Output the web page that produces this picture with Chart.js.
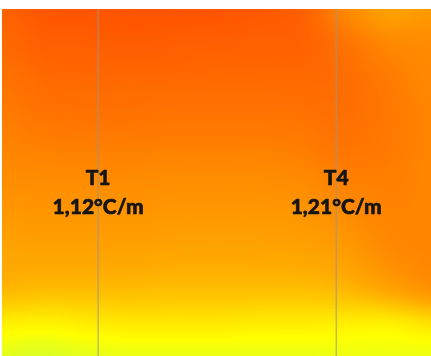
<!DOCTYPE html>
<html>
<head>
<meta charset="utf-8">
<script src="https://cdn.jsdelivr.net/npm/chart.js@4/dist/chart.umd.min.js"></script>
<style>
  html, body { margin: 0; padding: 0; background: #ffffff; }
  #wrap { width: 431px; height: 356px; position: relative; }
</style>
</head>
<body>
<div id="wrap"><canvas id="c"></canvas></div>
<script>
// Grid of the measured field: columns across the room width (0–100 %),
// rows from the ceiling (100 %) down to the floor (0 %).
const gridX = [0, 10, 20, 30, 40, 50, 60, 70, 80, 90, 100];
const gridY = [100, 90, 80, 70, 60, 50, 40, 30, 20, 10, 0];

// Relative temperature level (0 = coolest, 1 = warmest), one row per gridY entry.
const levels = [
  [0.85, 0.94, 0.95, 0.96, 0.96, 0.95, 0.92, 0.86, 0.60, 0.45, 0.50],
  [0.80, 0.87, 0.88, 0.89, 0.88, 0.87, 0.86, 0.85, 0.73, 0.60, 0.58],
  [0.74, 0.80, 0.81, 0.81, 0.81, 0.80, 0.80, 0.80, 0.77, 0.68, 0.60],
  [0.68, 0.73, 0.74, 0.74, 0.73, 0.73, 0.73, 0.74, 0.76, 0.70, 0.62],
  [0.62, 0.65, 0.66, 0.66, 0.65, 0.65, 0.65, 0.67, 0.72, 0.69, 0.62],
  [0.56, 0.57, 0.57, 0.57, 0.56, 0.56, 0.56, 0.58, 0.64, 0.65, 0.62],
  [0.50, 0.51, 0.51, 0.51, 0.50, 0.50, 0.50, 0.51, 0.56, 0.62, 0.62],
  [0.43, 0.44, 0.44, 0.44, 0.43, 0.43, 0.43, 0.44, 0.48, 0.58, 0.62],
  [0.36, 0.34, 0.34, 0.34, 0.33, 0.33, 0.33, 0.33, 0.36, 0.45, 0.55],
  [0.16, 0.15, 0.17, 0.18, 0.18, 0.18, 0.17, 0.17, 0.16, 0.16, 0.21],
  [0.03, 0.01, 0.04, 0.05, 0.05, 0.05, 0.05, 0.05, 0.06, 0.06, 0.06]
];

// Sensor masts and their measured vertical gradients
const sensorNames = ['T1', 'T4'];
const sensorX = [22.4, 77.9];
const sensorGradients = [1.12, 1.21];

// Colour ramp: cool yellow-green through yellow and orange to red-orange
const rampStops = [
  [0.00, [215, 255, 40]],
  [0.10, [255, 255, 0]],
  [0.25, [255, 208, 0]],
  [0.40, [255, 170, 0]],
  [0.55, [255, 144, 0]],
  [0.70, [255, 120, 0]],
  [0.85, [255, 98, 0]],
  [1.00, [255, 78, 0]]
];

function rampColor(t) {
  t = Math.max(0, Math.min(1, t));
  for (let i = 1; i < rampStops.length; i++) {
    const [t1, c1] = rampStops[i];
    const [t0, c0] = rampStops[i - 1];
    if (t <= t1) {
      const f = (t - t0) / (t1 - t0);
      return [c0[0] + (c1[0] - c0[0]) * f, c0[1] + (c1[1] - c0[1]) * f, c0[2] + (c1[2] - c0[2]) * f];
    }
  }
  return rampStops[rampStops.length - 1][1];
}

// Catmull-Rom weights for smooth interpolation across the grid
function cr(p0, p1, p2, p3, f) {
  return 0.5 * ((2 * p1) + (-p0 + p2) * f + (2 * p0 - 5 * p1 + 4 * p2 - p3) * f * f + (-p0 + 3 * p1 - 3 * p2 + p3) * f * f * f);
}
function cell(r, c) {
  r = Math.max(0, Math.min(gridY.length - 1, r));
  c = Math.max(0, Math.min(gridX.length - 1, c));
  return levels[r][c];
}
function sampleLevel(xv, yv) {
  const cx = (xv - gridX[0]) / (gridX[1] - gridX[0]);
  const ry = (gridY[0] - yv) / (gridY[0] - gridY[1]);
  const c = Math.max(0, Math.min(gridX.length - 2, Math.floor(cx)));
  const r = Math.max(0, Math.min(gridY.length - 2, Math.floor(ry)));
  const fx = Math.max(0, Math.min(1, cx - c));
  const fy = Math.max(0, Math.min(1, ry - r));
  const rows = [];
  for (let k = -1; k <= 2; k++) {
    rows.push(cr(cell(r + k, c - 1), cell(r + k, c), cell(r + k, c + 1), cell(r + k, c + 2), fx));
  }
  return cr(rows[0], rows[1], rows[2], rows[3], fy);
}

// Paints the field behind the datasets using the chart's own scales
const fieldPlugin = {
  id: 'field',
  beforeDatasetsDraw(chart) {
    const { ctx, chartArea: a, scales: { x, y } } = chart;
    const w = Math.round(a.right - a.left), h = Math.round(a.bottom - a.top);
    const off = document.createElement('canvas');
    off.width = w; off.height = h;
    const octx = off.getContext('2d');
    const img = octx.createImageData(w, h);
    for (let j = 0; j < h; j++) {
      const yv = y.getValueForPixel(a.top + j + 0.5);
      for (let i = 0; i < w; i++) {
        const xv = x.getValueForPixel(a.left + i + 0.5);
        const col = rampColor(sampleLevel(xv, yv));
        const k = (j * w + i) * 4;
        img.data[k] = col[0]; img.data[k + 1] = col[1]; img.data[k + 2] = col[2]; img.data[k + 3] = 255;
      }
    }
    octx.putImageData(img, 0, 0);
    ctx.save();
    ctx.drawImage(off, a.left, a.top);
    ctx.restore();
  }
};

// Sensor names and gradient values written at each mast
const labelPlugin = {
  id: 'sensorLabels',
  afterDatasetsDraw(chart) {
    const { ctx, scales: { x, y } } = chart;
    ctx.save();
    ctx.fillStyle = '#151515';
    ctx.strokeStyle = '#151515';
    ctx.lineWidth = 0.6;
    ctx.lineJoin = 'round';
    ctx.font = '900 21px Lato, "Open Sans", sans-serif';
    ctx.textAlign = 'center';
    ctx.textBaseline = 'alphabetic';
    sensorNames.forEach((name, i) => {
      const px = x.getPixelForValue(sensorX[i]);
      const y1 = y.getPixelForValue(49.3);
      const y2 = y.getPixelForValue(40.9);
      const txt = sensorGradients[i].toFixed(2).replace('.', ',') + '°C/m';
      ctx.fillText(name, px, y1);
      ctx.strokeText(name, px, y1);
      ctx.fillText(txt, px, y2);
      ctx.strokeText(txt, px, y2);
    });
    ctx.restore();
  }
};

new Chart(document.getElementById('c'), {
  type: 'scatter',
  data: {
    datasets: sensorX.map((sx, i) => ({
      label: sensorNames[i],
      data: [{ x: sx, y: 0 }, { x: sx, y: 100 }],
      showLine: true,
      borderColor: 'rgba(150,150,150,0.9)',
      borderWidth: 1,
      pointRadius: 0,
      fill: false
    }))
  },
  options: {
    responsive: true,
    maintainAspectRatio: false,
    animation: false,
    layout: { padding: { left: 2, top: 9, right: 0, bottom: 0 } },
    plugins: { legend: { display: false }, tooltip: { enabled: false } },
    scales: {
      x: { type: 'linear', min: 0, max: 100, display: false },
      y: { type: 'linear', min: 0, max: 100, display: false }
    }
  },
  plugins: [fieldPlugin, labelPlugin]
});
</script>
</body>
</html>
